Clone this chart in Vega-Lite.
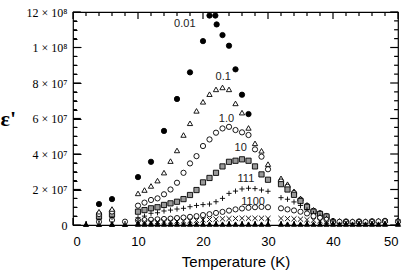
{
"$schema": "https://vega.github.io/schema/vega-lite/v6.json",
"width": 325, "height": 213,
"autosize": "none",
"padding": {"left": 73, "top": 12, "right": 11, "bottom": 49},
"background": "white",
"config": {"view": {"stroke": "black", "strokeWidth": 1.2}},
"datasets": {
"xmaj": [{"t":0},{"t":10},{"t":20},{"t":30},{"t":40},{"t":50}],
"xmin": [{"t":2},{"t":4},{"t":6},{"t":8},{"t":12},{"t":14},{"t":16},{"t":18},{"t":22},{"t":24},{"t":26},{"t":28},{"t":32},{"t":34},{"t":36},{"t":38},{"t":42},{"t":44},{"t":46},{"t":48}],
"ymaj": [{"t":0},{"t":20000000},{"t":40000000},{"t":60000000},{"t":80000000},{"t":100000000},{"t":120000000}],
"ymin": [{"t":5000000},{"t":10000000},{"t":15000000},{"t":25000000},{"t":30000000},{"t":35000000},{"t":45000000},{"t":50000000},{"t":55000000},{"t":65000000},{"t":70000000},{"t":75000000},{"t":85000000},{"t":90000000},{"t":95000000},{"t":105000000},{"t":110000000},{"t":115000000}]
},
"data": {"values": [
{"s":"base","T":2,"e":400000},{"s":"base","T":4,"e":400000},{"s":"base","T":6,"e":400000},{"s":"base","T":8,"e":400000},
{"s":"X","T":6,"e":1200000},
{"s":"1100","T":4,"e":1800000},{"s":"1100","T":6,"e":2800000},{"s":"1100","T":8,"e":1900000},
{"s":"111","T":4,"e":3200000},{"s":"111","T":6,"e":4300000},
{"s":"10","T":4,"e":4800000},{"s":"10","T":6,"e":6000000},
{"s":"1.0","T":4,"e":6200000},{"s":"1.0","T":6,"e":7600000},
{"s":"0.1","T":4,"e":7500000},{"s":"0.1","T":6,"e":9000000},
{"s":"0.01","T":4,"e":11800000},{"s":"0.01","T":6,"e":14600000},
{"s":"0.01","T":10,"e":27000000},{"s":"0.01","T":12,"e":35600000},{"s":"0.01","T":14,"e":53000000},{"s":"0.01","T":16,"e":71000000},{"s":"0.01","T":18,"e":86000000},{"s":"0.01","T":20,"e":103600000},{"s":"0.01","T":21,"e":118000000},{"s":"0.01","T":21.9,"e":118000000},{"s":"0.01","T":22.1,"e":113000000},{"s":"0.01","T":23,"e":107000000},{"s":"0.01","T":24,"e":101000000},{"s":"0.01","T":25,"e":87700000},{"s":"0.01","T":26,"e":73400000},{"s":"0.01","T":27,"e":62500000},
{"s":"0.1","T":10,"e":17800000},{"s":"0.1","T":11,"e":19700000},{"s":"0.1","T":12,"e":22000000},{"s":"0.1","T":13,"e":25000000},{"s":"0.1","T":14,"e":29500000},{"s":"0.1","T":15,"e":36000000},{"s":"0.1","T":16,"e":42000000},{"s":"0.1","T":17,"e":50700000},{"s":"0.1","T":18,"e":57300000},{"s":"0.1","T":19,"e":64300000},{"s":"0.1","T":20,"e":69400000},{"s":"0.1","T":21,"e":73700000},{"s":"0.1","T":22,"e":76400000},{"s":"0.1","T":23,"e":77500000},{"s":"0.1","T":24,"e":76400000},{"s":"0.1","T":25,"e":68500000},{"s":"0.1","T":26,"e":63300000},{"s":"0.1","T":27,"e":54700000},{"s":"0.1","T":28,"e":46000000},{"s":"0.1","T":29,"e":41800000},{"s":"0.1","T":30,"e":34300000},{"s":"0.1","T":32,"e":26300000},{"s":"0.1","T":33,"e":23000000},{"s":"0.1","T":34,"e":19000000},{"s":"0.1","T":35,"e":15000000},{"s":"0.1","T":36,"e":11300000},{"s":"0.1","T":37,"e":8500000},{"s":"0.1","T":38,"e":7000000},{"s":"0.1","T":39,"e":5500000},{"s":"0.1","T":40,"e":2400000},{"s":"0.1","T":41,"e":2300000},{"s":"0.1","T":42,"e":2200000},{"s":"0.1","T":43,"e":2200000},{"s":"0.1","T":44,"e":2200000},{"s":"0.1","T":45,"e":2200000},{"s":"0.1","T":46,"e":2300000},{"s":"0.1","T":47,"e":2500000},{"s":"0.1","T":48,"e":2700000},{"s":"0.1","T":50,"e":2600000},
{"s":"1.0","T":10,"e":10900000},{"s":"1.0","T":11,"e":12600000},{"s":"1.0","T":12,"e":14100000},{"s":"1.0","T":13,"e":15000000},{"s":"1.0","T":14,"e":17300000},{"s":"1.0","T":15,"e":20000000},{"s":"1.0","T":16,"e":23800000},{"s":"1.0","T":17,"e":29400000},{"s":"1.0","T":18,"e":34700000},{"s":"1.0","T":19,"e":38800000},{"s":"1.0","T":20,"e":44500000},{"s":"1.0","T":21,"e":48200000},{"s":"1.0","T":22,"e":52000000},{"s":"1.0","T":23,"e":54400000},{"s":"1.0","T":24,"e":55300000},{"s":"1.0","T":25,"e":53500000},{"s":"1.0","T":26,"e":52200000},{"s":"1.0","T":27,"e":50700000},{"s":"1.0","T":28,"e":42600000},{"s":"1.0","T":29,"e":38500000},{"s":"1.0","T":30,"e":31400000},{"s":"1.0","T":32,"e":24500000},{"s":"1.0","T":33,"e":21500000},{"s":"1.0","T":34,"e":18000000},{"s":"1.0","T":35,"e":14200000},{"s":"1.0","T":36,"e":10800000},{"s":"1.0","T":37,"e":8000000},{"s":"1.0","T":38,"e":6600000},{"s":"1.0","T":39,"e":5000000},{"s":"1.0","T":40,"e":2200000},{"s":"1.0","T":42,"e":2000000},{"s":"1.0","T":44,"e":2000000},{"s":"1.0","T":46,"e":2100000},{"s":"1.0","T":48,"e":2300000},
{"s":"10","T":10,"e":7500000},{"s":"10","T":11,"e":8400000},{"s":"10","T":12,"e":9400000},{"s":"10","T":13,"e":10000000},{"s":"10","T":14,"e":11300000},{"s":"10","T":15,"e":12200000},{"s":"10","T":16,"e":13100000},{"s":"10","T":17,"e":14600000},{"s":"10","T":18,"e":16900000},{"s":"10","T":19,"e":19700000},{"s":"10","T":20,"e":24000000},{"s":"10","T":21,"e":26500000},{"s":"10","T":22,"e":29400000},{"s":"10","T":23,"e":33000000},{"s":"10","T":24,"e":35600000},{"s":"10","T":25,"e":36200000},{"s":"10","T":26,"e":37000000},{"s":"10","T":27,"e":36200000},{"s":"10","T":28,"e":33000000},{"s":"10","T":29,"e":28500000},{"s":"10","T":30,"e":25500000},{"s":"10","T":32,"e":23000000},{"s":"10","T":33,"e":20000000},{"s":"10","T":34,"e":17000000},{"s":"10","T":35,"e":13500000},{"s":"10","T":36,"e":10200000},{"s":"10","T":37,"e":7500000},{"s":"10","T":38,"e":6200000},{"s":"10","T":39,"e":4800000},
{"s":"111","T":10,"e":4100000},{"s":"111","T":11,"e":5000000},{"s":"111","T":12,"e":6600000},{"s":"111","T":13,"e":6900000},{"s":"111","T":14,"e":7900000},{"s":"111","T":15,"e":8400000},{"s":"111","T":16,"e":9000000},{"s":"111","T":17,"e":9400000},{"s":"111","T":18,"e":10300000},{"s":"111","T":19,"e":11000000},{"s":"111","T":20,"e":11500000},{"s":"111","T":21,"e":11800000},{"s":"111","T":22,"e":13100000},{"s":"111","T":23,"e":15000000},{"s":"111","T":24,"e":17800000},{"s":"111","T":25,"e":19100000},{"s":"111","T":26,"e":20300000},{"s":"111","T":27,"e":20700000},{"s":"111","T":28,"e":20500000},{"s":"111","T":29,"e":19700000},{"s":"111","T":30,"e":19000000},{"s":"111","T":32,"e":15400000},{"s":"111","T":33,"e":14500000},{"s":"111","T":34,"e":13000000},{"s":"111","T":35,"e":11000000},{"s":"111","T":36,"e":8500000},{"s":"111","T":37,"e":6500000},{"s":"111","T":38,"e":5000000},{"s":"111","T":39,"e":3800000},
{"s":"1100","T":10,"e":2600000},{"s":"1100","T":11,"e":2800000},{"s":"1100","T":12,"e":3000000},{"s":"1100","T":13,"e":3200000},{"s":"1100","T":14,"e":3400000},{"s":"1100","T":15,"e":3600000},{"s":"1100","T":16,"e":3900000},{"s":"1100","T":17,"e":4200000},{"s":"1100","T":18,"e":4600000},{"s":"1100","T":19,"e":5000000},{"s":"1100","T":20,"e":5600000},{"s":"1100","T":21,"e":6100000},{"s":"1100","T":22,"e":6800000},{"s":"1100","T":23,"e":7400000},{"s":"1100","T":24,"e":8100000},{"s":"1100","T":25,"e":8800000},{"s":"1100","T":26,"e":9300000},{"s":"1100","T":27,"e":9700000},{"s":"1100","T":28,"e":10000000},{"s":"1100","T":29,"e":10200000},{"s":"1100","T":30,"e":10000000},{"s":"1100","T":32,"e":9400000},{"s":"1100","T":33,"e":8800000},{"s":"1100","T":34,"e":8200000},{"s":"1100","T":35,"e":7500000},{"s":"1100","T":36,"e":6500000},{"s":"1100","T":37,"e":5000000},{"s":"1100","T":38,"e":4000000},{"s":"1100","T":39,"e":3000000},{"s":"1100","T":40,"e":1800000},{"s":"1100","T":41,"e":1800000},{"s":"1100","T":42,"e":1700000},{"s":"1100","T":43,"e":1700000},{"s":"1100","T":44,"e":1700000},{"s":"1100","T":45,"e":1700000},{"s":"1100","T":46,"e":1800000},{"s":"1100","T":47,"e":2000000},{"s":"1100","T":48,"e":2100000},{"s":"1100","T":50,"e":2000000},
{"s":"X","T":10,"e":1600000},{"s":"X","T":11,"e":1700000},{"s":"X","T":12,"e":1800000},{"s":"X","T":13,"e":1900000},{"s":"X","T":14,"e":2000000},{"s":"X","T":15,"e":2100000},{"s":"X","T":16,"e":2200000},{"s":"X","T":17,"e":2300000},{"s":"X","T":18,"e":2400000},{"s":"X","T":19,"e":2600000},{"s":"X","T":20,"e":2900000},{"s":"X","T":21,"e":3100000},{"s":"X","T":22,"e":3300000},{"s":"X","T":23,"e":3500000},{"s":"X","T":24,"e":3600000},{"s":"X","T":25,"e":3700000},{"s":"X","T":26,"e":3800000},{"s":"X","T":27,"e":3800000},{"s":"X","T":28,"e":3800000},{"s":"X","T":29,"e":3800000},{"s":"X","T":30,"e":3700000},{"s":"X","T":32,"e":3700000},{"s":"X","T":33,"e":3600000},{"s":"X","T":34,"e":3500000},{"s":"X","T":35,"e":3300000},{"s":"X","T":36,"e":3000000},{"s":"X","T":37,"e":2700000},{"s":"X","T":38,"e":2400000},{"s":"X","T":39,"e":2100000},{"s":"X","T":40,"e":1400000},{"s":"X","T":42,"e":1300000},{"s":"X","T":44,"e":1300000},{"s":"X","T":46,"e":1400000},{"s":"X","T":48,"e":1500000},{"s":"X","T":50,"e":1500000},
{"s":"base","T":10,"e":500000},{"s":"base","T":11,"e":500000},{"s":"base","T":12,"e":500000},{"s":"base","T":13,"e":500000},{"s":"base","T":14,"e":500000},{"s":"base","T":15,"e":500000},{"s":"base","T":16,"e":500000},{"s":"base","T":17,"e":500000},{"s":"base","T":18,"e":500000},{"s":"base","T":19,"e":500000},{"s":"base","T":20,"e":500000},{"s":"base","T":21,"e":500000},{"s":"base","T":22,"e":500000},{"s":"base","T":23,"e":500000},{"s":"base","T":24,"e":500000},{"s":"base","T":25,"e":500000},{"s":"base","T":26,"e":500000},{"s":"base","T":27,"e":500000},{"s":"base","T":28,"e":500000},{"s":"base","T":29,"e":500000},{"s":"base","T":30,"e":500000},{"s":"base","T":32,"e":500000},{"s":"base","T":33,"e":500000},{"s":"base","T":34,"e":500000},{"s":"base","T":35,"e":500000},{"s":"base","T":36,"e":500000},{"s":"base","T":37,"e":500000},{"s":"base","T":38,"e":500000},{"s":"base","T":39,"e":500000},{"s":"base","T":40,"e":500000},{"s":"base","T":41,"e":500000},{"s":"base","T":42,"e":500000},{"s":"base","T":43,"e":500000},{"s":"base","T":44,"e":500000},{"s":"base","T":45,"e":500000},{"s":"base","T":46,"e":500000},{"s":"base","T":47,"e":500000},{"s":"base","T":48,"e":500000},{"s":"base","T":50,"e":500000}
]},
"layer": [
{
"mark": {"type": "point", "filled": true, "stroke": "black", "strokeWidth": 0.9, "opacity": 1},
"encoding": {
"x": {"field": "T", "type": "quantitative", "scale": {"domain": [0, 50], "nice": false},
 "axis": {"orient": "bottom", "grid": false, "domain": false, "ticks": true, "tickColor": "#000000", "tickWidth": 1, "labelColor": "#000000", "titleColor": "#000000",
  "values": [0,2,4,6,8,10,12,14,16,18,20,22,24,26,28,30,32,34,36,38,40,42,44,46,48,50],
  "tickSize": {"condition": {"test": "datum.value % 10 === 0", "value": -7}, "value": -4},
  "labelExpr": "datum.value % 10 === 0 ? datum.label : ''",
  "labelPadding": 17, "labelFont": "Liberation Sans", "labelFontSize": 13, "title": "Temperature (K)", "titleFont": "Liberation Sans", "titleFontSize": 15, "titleFontWeight": "normal", "titlePadding": 6}},
"y": {"field": "e", "type": "quantitative", "scale": {"domain": [0, 120000000], "nice": false},
 "axis": {"orient": "left", "grid": false, "domain": false, "ticks": true, "tickColor": "#000000", "tickWidth": 1, "labelColor": "#000000", "titleColor": "#000000",
  "values": [0,5000000,10000000,15000000,20000000,25000000,30000000,35000000,40000000,45000000,50000000,55000000,60000000,65000000,70000000,75000000,80000000,85000000,90000000,95000000,100000000,105000000,110000000,115000000,120000000],
  "tickSize": {"condition": {"test": "datum.value % 20000000 === 0", "value": -8}, "value": -4},
  "labelPadding": 14, "labelFont": "Liberation Serif", "labelFontSize": 12,
  "labelExpr": "datum.value % 20000000 !== 0 ? '' : datum.value == 0 ? '0' : datum.value == 100000000 ? '1 × 10⁸' : datum.value == 120000000 ? '12 × 10⁸' : (datum.value/10000000) + ' × 10⁷'",
  "title": "ε'", "titleAngle": 0, "titleFont": "Liberation Serif", "titleFontSize": 22, "titleFontWeight": "bold", "titleAlign": "left", "titleBaseline": "middle", "titleX": -73, "titleY": 106}},
"shape": {"field": "s", "type": "nominal", "legend": null, "scale": {"domain": ["0.01","0.1","1.0","10","111","1100","X","base"], "range": ["circle","triangle-up","circle","square","M-1,0L1,0M0,-1L0,1","circle","M-1,-1L1,1M-1,1L1,-1","triangle-up"]}},
"fill": {"field": "s", "type": "nominal", "legend": null, "scale": {"domain": ["0.01","0.1","1.0","10","111","1100","X","base"], "range": ["black","white","white","#999999","transparent","white","transparent","black"]}},
"size": {"field": "s", "type": "nominal", "legend": null, "scale": {"domain": ["0.01","0.1","1.0","10","111","1100","X","base"], "range": [28,26,24,26,30,16,20,22]}}
}
},
{
"data": {"name": "xmaj"},
"mark": {"type": "rule", "color": "black", "strokeWidth": 1.2},
"encoding": {"x": {"field": "t", "type": "quantitative", "axis": null}, "y": {"datum": 0, "axis": null}, "y2": {"datum": 4000000}}
},
{
"data": {"name": "xmaj"},
"mark": {"type": "rule", "color": "black", "strokeWidth": 1.2},
"encoding": {"x": {"field": "t", "type": "quantitative", "axis": null}, "y": {"datum": 120000000, "axis": null}, "y2": {"datum": 116000000}}
},
{
"data": {"name": "xmin"},
"mark": {"type": "rule", "color": "black", "strokeWidth": 1.2},
"encoding": {"x": {"field": "t", "type": "quantitative", "axis": null}, "y": {"datum": 0, "axis": null}, "y2": {"datum": 2300000}}
},
{
"data": {"name": "xmin"},
"mark": {"type": "rule", "color": "black", "strokeWidth": 1.2},
"encoding": {"x": {"field": "t", "type": "quantitative", "axis": null}, "y": {"datum": 120000000, "axis": null}, "y2": {"datum": 117700000}}
},
{
"data": {"name": "ymaj"},
"mark": {"type": "rule", "color": "black", "strokeWidth": 1.2},
"encoding": {"y": {"field": "t", "type": "quantitative", "axis": null}, "x": {"datum": 0, "axis": null}, "x2": {"datum": 1.2}}
},
{
"data": {"name": "ymaj"},
"mark": {"type": "rule", "color": "black", "strokeWidth": 1.2},
"encoding": {"y": {"field": "t", "type": "quantitative", "axis": null}, "x": {"datum": 50, "axis": null}, "x2": {"datum": 48.8}}
},
{
"data": {"name": "ymin"},
"mark": {"type": "rule", "color": "black", "strokeWidth": 1.2},
"encoding": {"y": {"field": "t", "type": "quantitative", "axis": null}, "x": {"datum": 0, "axis": null}, "x2": {"datum": 0.6}}
},
{
"data": {"name": "ymin"},
"mark": {"type": "rule", "color": "black", "strokeWidth": 1.2},
"encoding": {"y": {"field": "t", "type": "quantitative", "axis": null}, "x": {"datum": 50, "axis": null}, "x2": {"datum": 49.4}}
},
{
"data": {"values": [
{"label":"0.01","T":17.2,"e":113000000},
{"label":"0.1","T":23.1,"e":83500000},
{"label":"1.0","T":23.6,"e":59500000},
{"label":"10","T":25.8,"e":43200000},
{"label":"111","T":26.6,"e":25700000},
{"label":"1100","T":27.7,"e":13100000}
]},
"mark": {"type": "text", "font": "Liberation Sans", "fontSize": 11, "color": "#222222"},
"encoding": {
"x": {"field": "T", "type": "quantitative", "axis": null},
"y": {"field": "e", "type": "quantitative", "axis": null},
"text": {"field": "label"}
}
}
],
"resolve": {"axis": {"x": "independent", "y": "independent"}}
}
